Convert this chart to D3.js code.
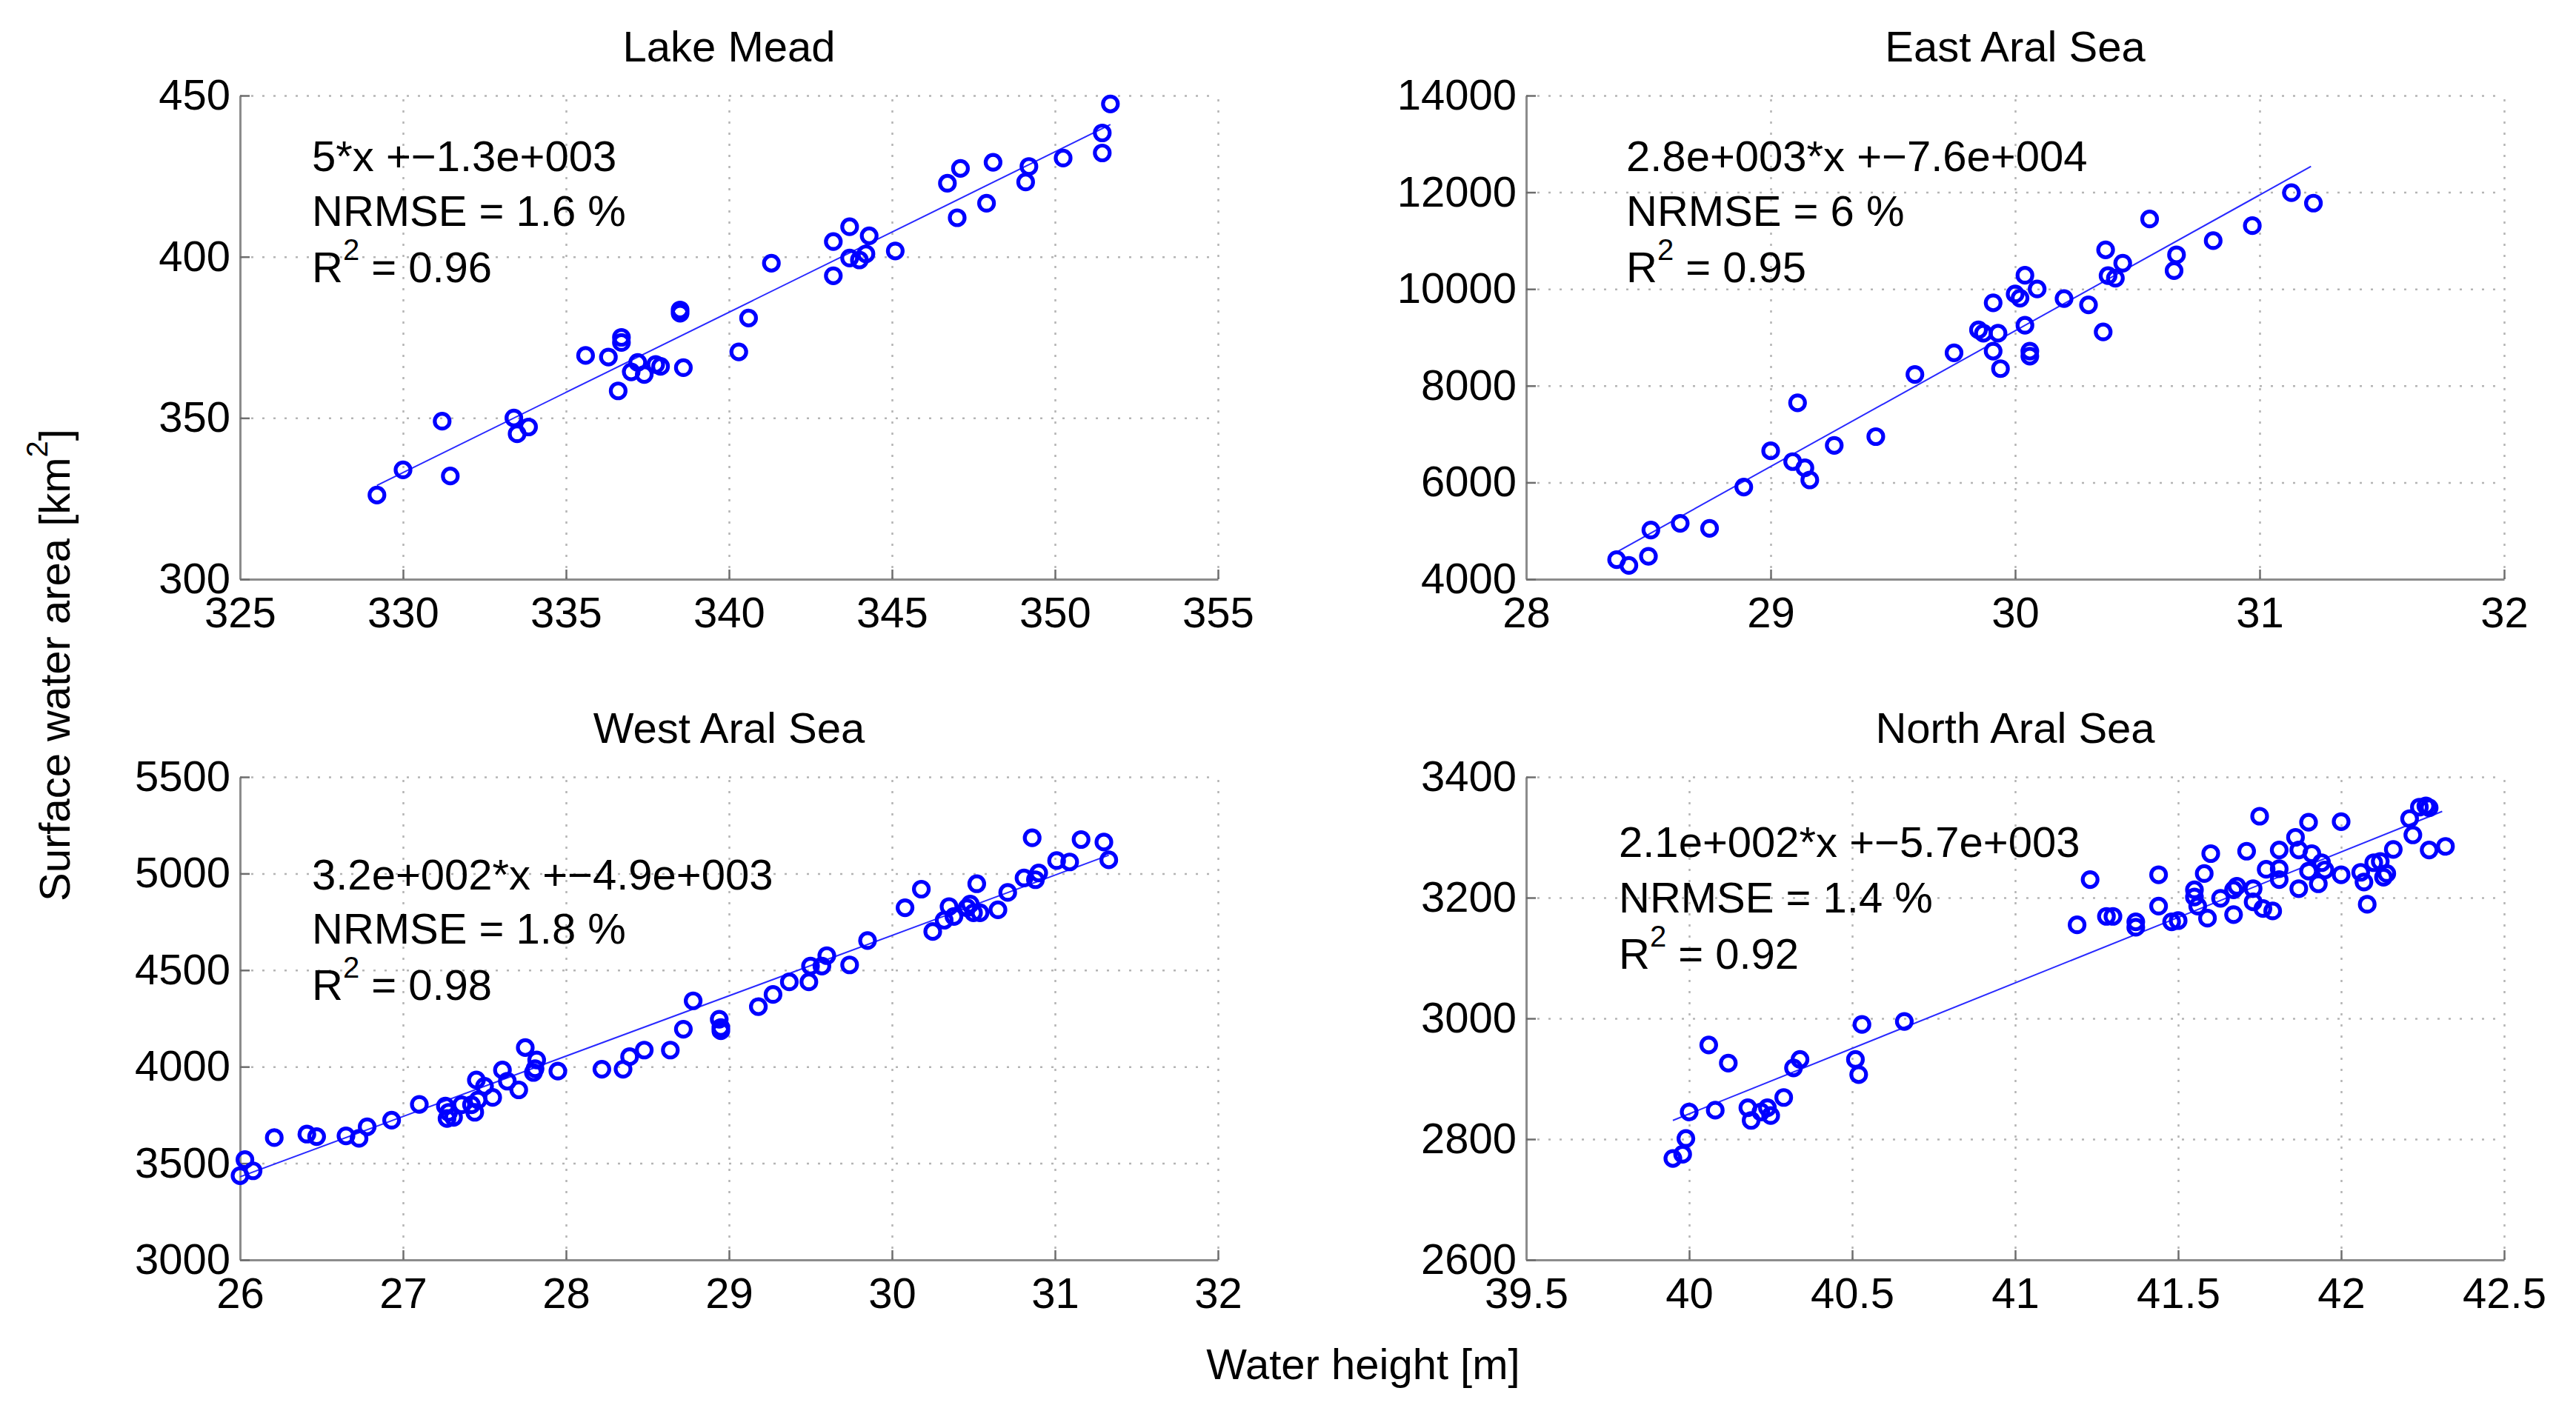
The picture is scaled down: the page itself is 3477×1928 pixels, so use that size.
<!DOCTYPE html>
<html>
<head>
<meta charset="utf-8">
<title>Water height vs surface area</title>
<style>
  body { margin: 0; background: #fff; }
  svg  { display: block; font-family: "Liberation Sans", Arial, sans-serif; }
  .grid line { stroke: #b4b4b4; stroke-width: 2.5; stroke-dasharray: 3 12; }
  .grid path { display: none; }
  .axis path { stroke: #8c8c8c; stroke-width: 3; }
  .axis line { stroke: #6e6e6e; stroke-width: 2.5; }
</style>
</head>
<body>
<script src="https://cdn.jsdelivr.net/npm/d3@7"></script>
<script>

// Lake Mead: water height [m] / surface area [km2]
var meadH = [329.2, 330.0, 331.2, 331.45, 333.4, 333.5, 333.85, 335.6, 336.3, 336.7, 336.7, 336.6,
             337.0, 337.2, 337.4, 337.75, 337.9, 338.6, 338.5, 338.5, 340.3, 340.6, 341.3, 343.2,
             343.2, 343.7, 343.7, 344.0, 344.2, 344.3, 345.1, 346.7, 347.1, 347.0, 347.9, 348.1,
             349.1, 349.2, 350.25, 351.45, 351.45, 351.7];
var meadA = [326.1, 333.9, 349, 332, 350, 345.1, 347.2, 369.4, 368.9, 375, 373.4, 358.4,
             364.3, 367.2, 363.5, 366.6, 366, 365.6, 383.5, 382.5, 370.5, 381, 398, 394.1,
             404.7, 409.3, 399.6, 399, 400.9, 406.5, 401.8, 422.8, 427.4, 412.1, 416.6, 429.3,
             423.2, 428, 430.6, 438.4, 432.2, 447.4];
var meadFitH = [329.2, 351.7];
var meadFitA = [329.1, 441];
var meadXTicks = [325, 330, 335, 340, 345, 350, 355];
var meadYTicks = [300, 350, 400, 450];
var meadNotes = ["5*x +\u22121.3e+003", "NRMSE = 1.6 %", "0.96"];

// East Aral Sea
var eastH = [28.37, 28.42, 28.50, 28.51, 28.63, 28.75, 28.89, 29.0, 29.09, 29.14, 29.16, 29.11,
             29.26, 29.43, 29.59, 29.75, 29.85, 29.87, 29.91, 29.91, 29.93, 29.94, 30.0, 30.02,
             30.04, 30.04, 30.06, 30.06, 30.09, 30.2, 30.3, 30.36, 30.37, 30.38, 30.41, 30.44,
             30.55, 30.65, 30.66, 30.81, 30.97, 31.13, 31.22];
var eastA = [4405, 4284, 4474, 5017, 5155, 5052, 5905, 6655, 6431, 6302, 6052, 7647,
             6767, 6948, 8233, 8681, 9155, 9086, 9715, 8716, 9086, 8353, 9897, 9810,
             10284, 9250, 8716, 8612, 10000, 9802, 9672, 9112, 10810, 10276, 10224, 10534,
             11448, 10379, 10707, 11000, 11310, 11991, 11776];
var eastFitH = [28.37, 31.21];
var eastFitA = [4560, 12534];
var eastXTicks = [28, 29, 30, 31, 32];
var eastYTicks = [4000, 6000, 8000, 10000, 12000, 14000];
var eastNotes = ["2.8e+003*x +\u22127.6e+004", "NRMSE = 6 %", "0.95"];

// West Aral Sea
var westH = [26.0, 26.03, 26.08, 26.21, 26.41, 26.47, 26.65, 26.73, 26.78, 26.93, 27.10, 27.26,
             27.27, 27.28, 27.31, 27.36, 27.42, 27.44, 27.45, 27.46, 27.50, 27.55, 27.61, 27.64,
             27.71, 27.75, 27.82, 27.81, 27.80, 27.95, 28.22, 28.35, 28.39, 28.48, 28.64, 28.72,
             28.78, 28.94, 28.95, 28.95, 29.18, 29.27, 29.37, 29.49, 29.50, 29.57, 29.60, 29.74,
             29.85, 30.08, 30.18, 30.25, 30.32, 30.35, 30.38, 30.46, 30.48, 30.52, 30.50, 30.54,
             30.65, 30.71, 30.81, 30.86, 30.88, 30.90, 31.01, 31.09, 31.16, 31.30, 31.33];
var westA = [3436, 3519, 3461, 3633, 3651, 3638, 3642, 3629, 3689, 3723, 3805, 3796,
             3732, 3764, 3738, 3803, 3803, 3764, 3931, 3828, 3899, 3841, 3983, 3925,
             3880, 4099, 4035, 3990, 3970, 3977, 3987, 3987, 4052, 4086, 4086, 4194,
             4341, 4246, 4203, 4186, 4311, 4374, 4439, 4439, 4521, 4521, 4575, 4527,
             4653, 4823, 4919, 4700, 4758, 4829, 4778, 4823, 4842, 4947, 4797, 4797,
             4812, 4902, 4977, 5185, 4968, 5003, 5067, 5060, 5176, 5163, 5071];
var westFitH = [26.0, 31.33];
var westFitA = [3430, 5095];
var westXTicks = [26, 27, 28, 29, 30, 31, 32];
var westYTicks = [3000, 3500, 4000, 4500, 5000, 5500];
var westNotes = ["3.2e+002*x +\u22124.9e+003", "NRMSE = 1.8 %", "0.98"];

// North Aral Sea
var northH = [39.95, 39.98, 39.99, 40.0, 40.06, 40.08, 40.12, 40.18, 40.19, 40.22, 40.24, 40.25,
              40.29, 40.32, 40.34, 40.51, 40.52, 40.53, 40.66, 41.19, 41.23, 41.28, 41.30,
              41.37, 41.37, 41.44, 41.44, 41.48, 41.50, 41.55, 41.55, 41.56, 41.58, 41.59, 41.60,
              41.63, 41.67, 41.67, 41.68, 41.71, 41.73, 41.73, 41.76, 41.79, 41.75, 41.77, 41.81,
              41.81, 41.81, 41.86, 41.87, 41.87, 41.90, 41.90, 41.91, 41.93, 41.94, 41.95, 42.0,
              42.0, 42.06, 42.07, 42.08, 42.10, 42.12, 42.13, 42.14, 42.16, 42.21, 42.22, 42.24,
              42.26, 42.27, 42.27, 42.32];
var northA = [2768, 2775, 2801, 2845, 2956, 2848, 2926, 2852, 2831, 2845, 2852, 2839,
              2869, 2918, 2932, 2932, 2907, 2990, 2995, 3155, 3230, 3169, 3169,
              3160, 3151, 3238, 3186, 3160, 3162, 3213, 3201, 3186, 3240, 3166, 3273,
              3199, 3172, 3213, 3219, 3277, 3215, 3193, 3182, 3178, 3335, 3247, 3279,
              3230, 3248, 3300, 3279, 3215, 3325, 3244, 3273, 3223, 3258, 3246, 3238,
              3326, 3242, 3226, 3189, 3258, 3260, 3234, 3240, 3280, 3331, 3304, 3350,
              3352, 3349, 3279, 3285];
var northFitH = [39.95, 42.31];
var northFitA = [2831, 3343];
var northXTicks = [39.5, 40, 40.5, 41, 41.5, 42, 42.5];
var northYTicks = [2600, 2800, 3000, 3200, 3400];
var northNotes = ["2.1e+002*x +\u22125.7e+003", "NRMSE = 1.4 %", "0.92"];

var width = 3477, height = 1928;
var fontSize = 58;
var plotW = 1320;

var panels = [
  {title: "Lake Mead",      left: 324,  top: 129,  h: 653, hx: meadH,  ay: meadA,  fitH: meadFitH,  fitA: meadFitA,
   xt: meadXTicks,  yt: meadYTicks,  notes: meadNotes,  noteX: 97,  noteY: [102, 176, 252]},
  {title: "East Aral Sea",  left: 2060, top: 129,  h: 653, hx: eastH,  ay: eastA,  fitH: eastFitH,  fitA: eastFitA,
   xt: eastXTicks,  yt: eastYTicks,  notes: eastNotes,  noteX: 135, noteY: [102, 176, 252]},
  {title: "West Aral Sea",  left: 324,  top: 1049, h: 652, hx: westH,  ay: westA,  fitH: westFitH,  fitA: westFitA,
   xt: westXTicks,  yt: westYTicks,  notes: westNotes,  noteX: 97,  noteY: [152, 225, 301]},
  {title: "North Aral Sea", left: 2060, top: 1049, h: 652, hx: northH, ay: northA, fitH: northFitH, fitA: northFitA,
   xt: northXTicks, yt: northYTicks, notes: northNotes, noteX: 125, noteY: [108, 183, 259]}
];

var svg = d3.select("body").append("svg")
    .attr("width", width)
    .attr("height", height);

svg.append("rect").attr("width", width).attr("height", height).attr("fill", "#fff");

panels.forEach(function(p) {
  var x = d3.scaleLinear()
      .domain(d3.extent(p.xt))
      .range([0, plotW]);
  var y = d3.scaleLinear()
      .domain(d3.extent(p.yt))
      .range([p.h, 0]);

  var g = svg.append("g")
      .attr("transform", `translate(${p.left},${p.top})`);

  // dotted grid
  g.append("g")
      .attr("class", "grid")
      .attr("transform", `translate(0,${p.h})`)
      .call(d3.axisBottom(x).tickValues(p.xt).tickSize(-p.h).tickFormat(""));
  g.append("g")
      .attr("class", "grid")
      .call(d3.axisLeft(y).tickValues(p.yt).tickSize(-plotW).tickFormat(""));

  // axes with inward ticks
  var xa = g.append("g")
      .attr("class", "axis")
      .attr("transform", `translate(0,${p.h})`)
      .call(d3.axisBottom(x).tickValues(p.xt).tickSizeInner(-13).tickSizeOuter(0)
              .tickPadding(24).tickFormat(d => String(d)));
  var ya = g.append("g")
      .attr("class", "axis")
      .call(d3.axisLeft(y).tickValues(p.yt).tickSizeInner(-13).tickSizeOuter(0)
              .tickPadding(13).tickFormat(d => String(d)));
  [xa, ya].forEach(function(a) {
    a.attr("font-size", null).attr("font-family", null);
    a.selectAll("text").attr("font-size", fontSize).attr("fill", "#000");
  });

  // title
  g.append("text")
      .attr("x", plotW / 2)
      .attr("y", -46)
      .attr("text-anchor", "middle")
      .attr("font-size", fontSize)
      .text(p.title);

  // fit line
  g.append("line")
      .attr("x1", x(p.fitH[0])).attr("y1", y(p.fitA[0]))
      .attr("x2", x(p.fitH[1])).attr("y2", y(p.fitA[1]))
      .attr("stroke", "#2828ff")
      .attr("stroke-width", 2);

  // observations
  g.selectAll(".pt")
      .data(d3.zip(p.hx, p.ay))
    .enter().append("circle")
      .attr("class", "pt")
      .attr("cx", d => x(d[0]))
      .attr("cy", d => y(d[1]))
      .attr("r", 10)
      .attr("fill", "none")
      .attr("stroke", "#0000ff")
      .attr("stroke-width", 5.2);

  // fit statistics
  g.append("text")
      .attr("x", p.noteX).attr("y", p.noteY[0])
      .attr("font-size", fontSize)
      .text(p.notes[0]);
  g.append("text")
      .attr("x", p.noteX).attr("y", p.noteY[1])
      .attr("font-size", fontSize)
      .text(p.notes[1]);
  var r2 = g.append("text")
      .attr("x", p.noteX).attr("y", p.noteY[2])
      .attr("font-size", fontSize);
  r2.append("tspan").text("R");
  r2.append("tspan").attr("font-size", 40).attr("dy", -30).text("2");
  r2.append("tspan").attr("dy", 30).text(" = " + p.notes[2]);
});

// shared axis labels
var yl = svg.append("text")
    .attr("transform", "translate(94,898) rotate(-90)")
    .attr("text-anchor", "middle")
    .attr("font-size", fontSize);
yl.append("tspan").text("Surface water area [km");
yl.append("tspan").attr("font-size", 40).attr("dy", -30).text("2");
yl.append("tspan").attr("dy", 30).text("]");

svg.append("text")
    .attr("x", 1840)
    .attr("y", 1862)
    .attr("text-anchor", "middle")
    .attr("font-size", fontSize)
    .text("Water height [m]");

</script>
</body>
</html>
